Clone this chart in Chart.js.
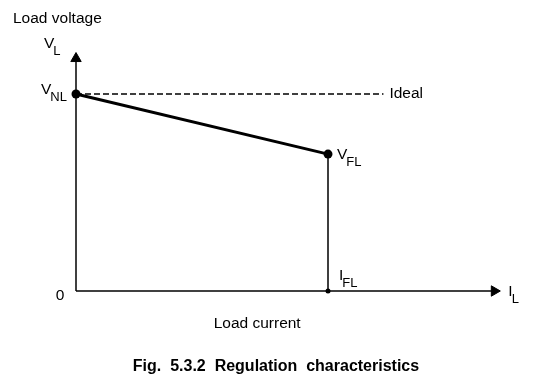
<!DOCTYPE html>
<html>
<head>
<meta charset="utf-8">
<script src="https://cdn.jsdelivr.net/npm/chart.js@4"></script>
<style>
  body { margin: 0; background: #fff; }
  #wrap { width: 537px; height: 389px; position: relative; }
</style>
</head>
<body>
<div id="wrap"><canvas id="regChart"></canvas></div>
<script>
// load current (per unit of I_FL) and load voltage (per unit of V_NL)
const currents = [0, 1];
const voltages = [1, 0.695];
const idealEnd = 1.22;
const xAxisEnd = 1.66;
const yAxisEnd = 1.18;

const titleText = "Fig.  5.3.2  Regulation  characteristics";

const characteristic = currents.map((c, i) => ({ x: c, y: voltages[i] }));

// text labels drawn on top, anchored to data values
const labelPlugin = {
    id: "labels",
    afterDatasetsDraw(chart) {
        const ctx = chart.ctx;
        const xs = chart.scales.x;
        const ys = chart.scales.y;
        const px = v => xs.getPixelForValue(v);
        const py = v => ys.getPixelForValue(v);
        const font = "15.5px 'Liberation Sans', Arial, sans-serif";

        ctx.save();
        ctx.fillStyle = "#000";
        ctx.textBaseline = "middle";

        function sub(main, s, x, y) {
            ctx.font = font;
            ctx.textAlign = "left";
            ctx.fillText(main, x, y);
            const w = ctx.measureText(main).width;
            ctx.font = "13px 'Liberation Sans', Arial, sans-serif";
            ctx.fillText(s, x + w - 1, y + 7);
        }

        ctx.font = font;
        ctx.textAlign = "left";
        ctx.fillText("Load voltage", 13, 19);

        sub("V", "L", 44, 44);
        sub("V", "NL", px(0) - 35, py(voltages[0]) - 4);
        sub("V", "FL", px(currents[1]) + 9, py(voltages[1]) + 1);
        sub("I", "FL", px(currents[1]) + 11, py(0) - 15);
        sub("I", "L", px(xAxisEnd) + 14, py(0) + 1);

        ctx.font = font;
        ctx.fillText("Ideal", px(idealEnd) + 6, py(voltages[0]));

        ctx.textAlign = "center";
        ctx.fillText("0", px(0) - 16, py(0) + 5);
        ctx.fillText("Load current", (px(0) + px(xAxisEnd)) / 2 - 28, py(0) + 33);

        ctx.font = "bold 16px 'Liberation Sans', Arial, sans-serif";
        ctx.fillText(titleText, 276, 367);
        ctx.restore();
    }
};

new Chart(document.getElementById("regChart"), {
    type: "scatter",
    data: {
        datasets: [
            {
                // x axis
                data: [{ x: 0, y: 0 }, { x: xAxisEnd, y: 0 }],
                showLine: true,
                borderColor: "#000",
                borderWidth: 1.5,
                pointRadius: 0
            },
            {
                // y axis
                data: [{ x: 0, y: 0 }, { x: 0, y: yAxisEnd }],
                showLine: true,
                borderColor: "#000",
                borderWidth: 1.5,
                pointRadius: 0
            },
            {
                // arrow heads
                data: [{ x: xAxisEnd, y: 0 }, { x: 0, y: yAxisEnd }],
                pointStyle: "triangle",
                rotation: [90, 0],
                pointRadius: 6,
                backgroundColor: "#000",
                borderColor: "#000",
                borderWidth: 1
            },
            {
                // ideal characteristic
                data: [{ x: 0, y: voltages[0] }, { x: idealEnd, y: voltages[0] }],
                showLine: true,
                borderColor: "#000",
                borderWidth: 1.5,
                borderDash: [6, 3],
                pointRadius: 0
            },
            {
                // full load drop line
                data: [{ x: currents[1], y: voltages[1] }, { x: currents[1], y: 0 }],
                showLine: true,
                borderColor: "#000",
                borderWidth: 1.5,
                pointRadius: [0, 2.5],
                pointBorderWidth: 0,
                backgroundColor: "#000"
            },
            {
                // regulation characteristic
                data: characteristic,
                showLine: true,
                borderColor: "#000",
                borderWidth: 3,
                pointRadius: 4.5,
                backgroundColor: "#000",
                pointBorderWidth: 0
            }
        ]
    },
    options: {
        responsive: true,
        maintainAspectRatio: false,
        animation: false,
        layout: { padding: { left: 76, right: 32.6, top: 44.75, bottom: 98 } },
        datasets: { scatter: { clip: false } },
        scales: {
            x: { type: "linear", min: 0, max: 1.7, display: false },
            y: { type: "linear", min: 0, max: 1.25, display: false }
        },
        plugins: {
            legend: { display: false },
            tooltip: { enabled: false }
        }
    },
    plugins: [labelPlugin]
});
</script>
</body>
</html>
